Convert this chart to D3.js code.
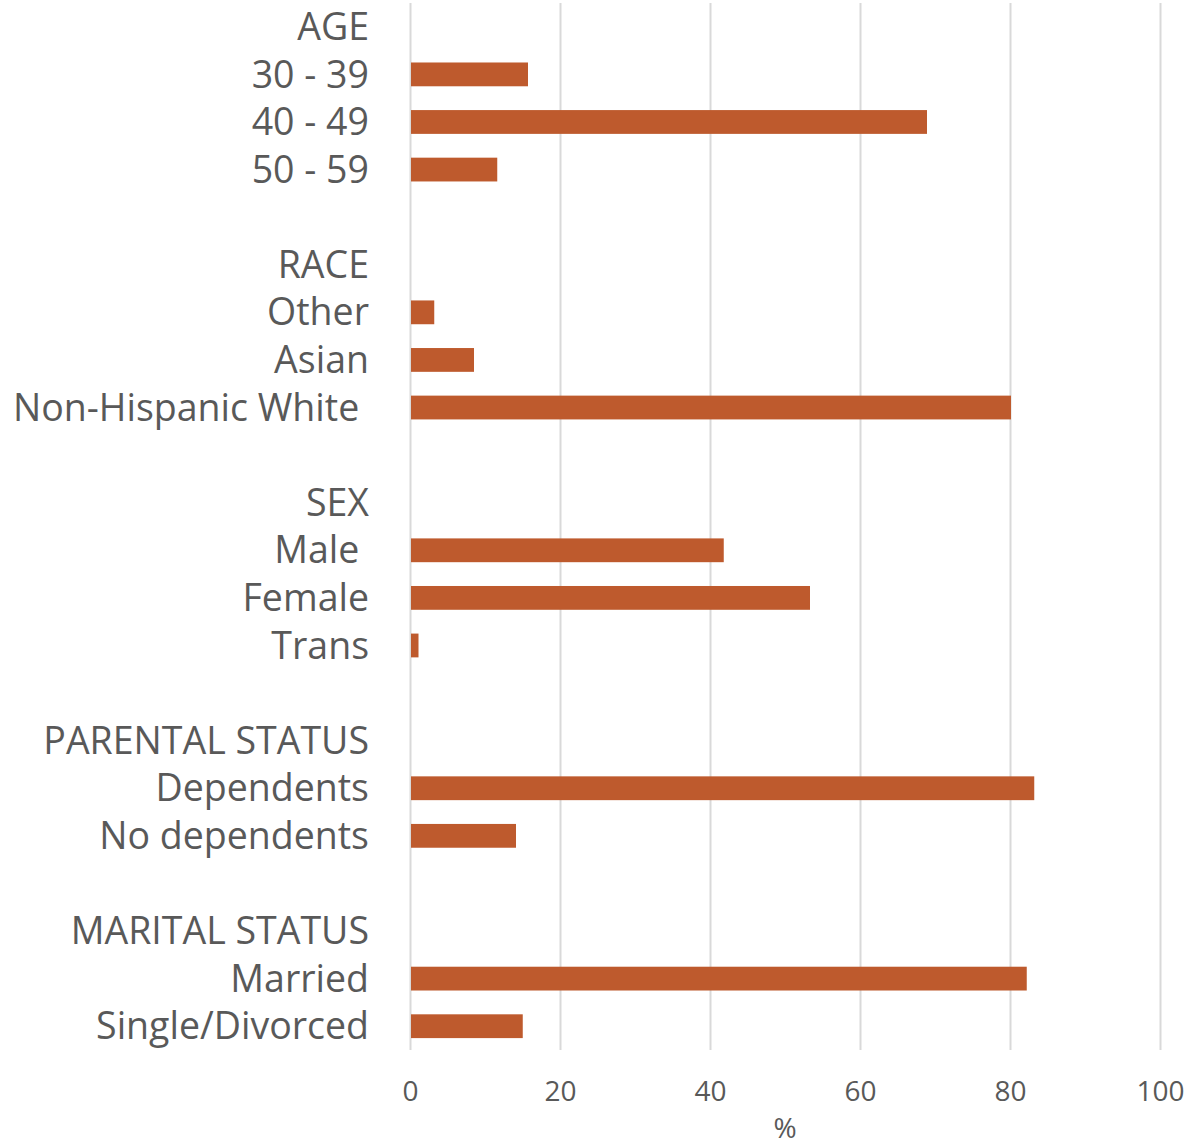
<!DOCTYPE html>
<html>
<head>
<meta charset="utf-8">
<script src="https://cdn.jsdelivr.net/npm/d3@7"></script>
<style>
  body { margin: 0; background: #fff; }
  text { font-family: "Open Sans", "Noto Sans", sans-serif; fill: #595959; white-space: pre; }
</style>
</head>
<body>
<div id="chart"></div>
<script>
// row labels top to bottom ("" = spacer row)
const labels = [
    "AGE", "30 - 39", "40 - 49", "50 - 59", "",
    "RACE", "Other", "Asian", "Non-Hispanic White ", "",
    "SEX", "Male ", "Female", "Trans", "",
    "PARENTAL STATUS", "Dependents", "No dependents", "",
    "MARITAL STATUS", "Married", "Single/Divorced"
];
// percent values, null where the row is a heading or spacer
const values = [
    null, 15.6, 68.8, 11.5, null,
    null, 3.1, 8.4, 80.0, null,
    null, 41.7, 53.2, 1.0, null,
    null, 83.1, 14.0, null,
    null, 82.1, 14.9
];
const xTicks = [0, 20, 40, 60, 80, 100];

const W = 1188, H = 1147;
const margin = {top: 3, right: 28, bottom: 97, left: 410};
const width = W - margin.left - margin.right;
const height = H - margin.top - margin.bottom;

const rows = labels.map((l, i) => ({label: l, value: values[i], idx: i}));

const x = d3.scaleLinear().domain([0, 100]).range([0, width]);
const y = d3.scaleBand().domain(rows.map(d => d.idx)).range([0, height]).paddingInner(0.5).paddingOuter(0.25);

const svg = d3.select("#chart").append("svg")
    .attr("width", W)
    .attr("height", H)
    .append("g")
    .attr("transform", "translate(" + margin.left + "," + margin.top + ")");

// gridlines
svg.append("g")
    .selectAll("line")
    .data(xTicks)
    .join("line")
    .attr("x1", d => Math.round(x(d)) + 0.5)
    .attr("x2", d => Math.round(x(d)) + 0.5)
    .attr("y1", 0)
    .attr("y2", height)
    .attr("stroke", "#d9d9d9")
    .attr("stroke-width", 2);

// bars
svg.append("g")
    .selectAll("rect")
    .data(rows.filter(d => d.value != null))
    .join("rect")
    .attr("x", x(0) + 1)
    .attr("y", d => y(d.idx))
    .attr("width", d => x(d.value) - x(0))
    .attr("height", y.bandwidth())
    .attr("fill", "#BE5A2D");

// category labels
svg.append("g")
    .selectAll("text")
    .data(rows)
    .join("text")
    .attr("x", -41)
    .attr("y", d => y(d.idx) + y.bandwidth() / 2)
    .attr("dy", "0.35em")
    .attr("text-anchor", "end")
    .style("font-size", "37.5px")
    .text(d => d.label);

// x axis tick labels
const xAxis = d3.axisBottom(x).tickValues(xTicks).tickSize(0).tickPadding(31);
svg.append("g")
    .attr("transform", "translate(0," + height + ")")
    .call(xAxis)
    .call(g => g.select(".domain").remove())
    .call(g => g.selectAll("text")
        .style("font-size", "28px")
        .attr("fill", "#595959"));

svg.append("text")
    .attr("x", width / 2)
    .attr("y", height + 78)
    .attr("dy", "0.35em")
    .attr("text-anchor", "middle")
    .style("font-size", "28px")
    .text("%");
</script>
</body>
</html>
